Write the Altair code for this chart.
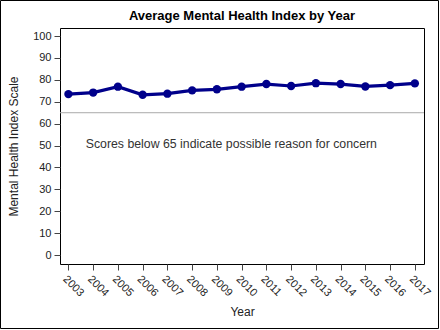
import altair as alt
import pandas as pd

years = list(range(2003, 2018))
scores = [73.5, 74.2, 76.9, 73.2, 73.7, 75.2, 75.7, 76.9, 78.1, 77.2, 78.5, 78.1, 77.0, 77.6, 78.4]
ref_value = [65]
note_text = ["Scores below 65 indicate possible reason for concern"]
note_x = [2003.7]
note_y = [50.5]
title_text = ["Average Mental Health Index by Year"]
y_ticks = list(range(0, 101, 10))

df = pd.DataFrame({"Year": years, "Score": scores})
ref = pd.DataFrame({"v": ref_value})
note = pd.DataFrame({"x": note_x, "y": note_y, "t": note_text})
ttl = pd.DataFrame({"t": title_text})

W, H = 364, 236
FONT = "Liberation Sans"

xscale = alt.Scale(domain=[2002.66, 2017.37], nice=False, zero=False)
yscale = alt.Scale(domain=[-4.1, 103.7], nice=False, zero=False)

xaxis = alt.Axis(title="Year", values=years, format="d", labelAngle=45,
                 grid=False, domain=False, ticks=True, tickSize=6, tickColor="#444444",
                 labelFontSize=11, labelColor="#222222", labelFont=FONT,
                 titleFont=FONT, titleFontSize=12, titleFontWeight="normal",
                 titleColor="#222222", labelPadding=3, titlePadding=8,
                 labelAlign="left", labelBaseline="top", labelOverlap=False)
yaxis = alt.Axis(title="Mental Health Index Scale", values=y_ticks, format="d",
                 grid=False, domain=False, ticks=True, tickSize=6, tickColor="#444444",
                 labelFontSize=11, labelColor="#222222", labelFont=FONT,
                 titleFont=FONT, titleFontSize=12, titleFontWeight="normal",
                 titleColor="#222222", labelPadding=3, titlePadding=12,
                 labelOverlap=False)

line = alt.Chart(df).mark_line(
    color="#00008B", strokeWidth=3.2,
    point=alt.OverlayMarkDef(filled=True, color="#00008B", size=70, opacity=1),
).encode(
    x=alt.X("Year:Q", scale=xscale, axis=xaxis),
    y=alt.Y("Score:Q", scale=yscale, axis=yaxis),
)

rule = alt.Chart(ref).mark_rule(color="#AAAAAA", strokeWidth=1).encode(
    y=alt.Y("v:Q", scale=yscale, axis=yaxis),
)

text = alt.Chart(note).mark_text(align="left", baseline="middle", fontSize=12.3,
                                 font=FONT, color="#333333").encode(
    x=alt.X("x:Q", scale=xscale, axis=xaxis),
    y=alt.Y("y:Q", scale=yscale, axis=yaxis),
    text="t:N",
)

title = alt.Chart(ttl).mark_text(align="center", baseline="alphabetic", fontSize=13,
                                 fontWeight="bold", font=FONT, color="black").encode(
    x=alt.value(W / 2), y=alt.value(-8), text="t:N"
)

border = alt.Chart(ref).mark_rect(fill=None, filled=False, stroke="black", strokeWidth=1).encode(
    x=alt.value(-59.5), x2=alt.value(378.5), y=alt.value(-27.5), y2=alt.value(300.5)
)

chart = alt.layer(rule, line, text, title, border).properties(
    width=W, height=H,
    autosize=alt.AutoSizeParams(type="none"),
    padding={"left": 60, "top": 28, "right": 16, "bottom": 66},
    background="white",
).configure_view(stroke="black", strokeWidth=1)

chart.save("out.html", embed_options={"renderer": "svg", "actions": False})
